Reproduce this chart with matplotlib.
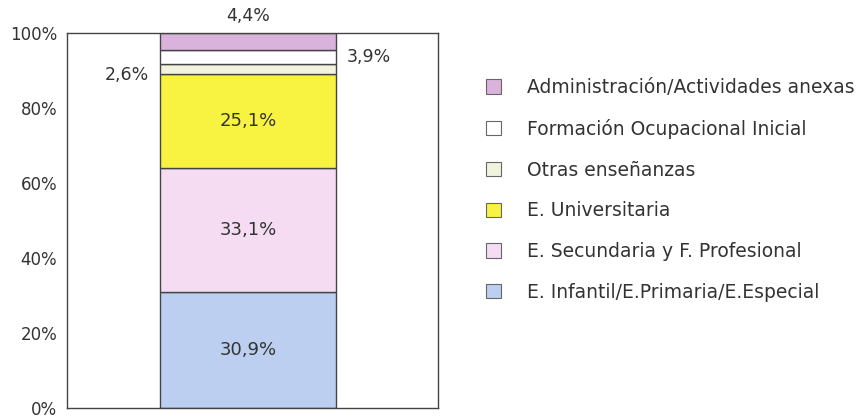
import matplotlib.pyplot as plt
from matplotlib.patches import Patch

# Data (bottom to top)
categories = ['E. Infantil/E.Primaria/E.Especial', 'E. Secundaria y F. Profesional',
              'E. Universitaria', 'Otras enseñanzas', 'Formación Ocupacional Inicial',
              'Administración/Actividades anexas']
values = [30.9, 33.1, 25.1, 2.6, 3.9, 4.4]
labels = ['30,9%', '33,1%', '25,1%', '2,6%', '3,9%', '4,4%']
colors = ['#bccff0', '#f6dcf2', '#f7f340', '#f1f3dc', '#ffffff', '#d9b3dc']
yticks = [0, 20, 40, 60, 80, 100]

plt.rcParams['font.family'] = ['DejaVu Sans']
txt = '#333333'

fig = plt.figure(figsize=(8.58, 4.16), dpi=100)
ax = fig.add_axes([67 / 858, 8 / 416, 371 / 858, 375 / 416])

x0 = -0.025
bar_w = 0.95
bottom = 0
for v, c, lab in zip(values, colors, labels):
    ax.bar(x0, v, bottom=bottom, width=bar_w, color=c, edgecolor='#444444', linewidth=1.0)
    mid = bottom + v / 2
    if lab == '4,4%':
        ax.text(x0, 102.2, lab, ha='center', va='bottom', fontsize=12.5, color=txt)
    elif lab == '3,9%':
        ax.text(x0 + bar_w / 2 + 0.06, mid, lab, ha='left', va='center', fontsize=12.5, color=txt)
    elif lab == '2,6%':
        ax.text(x0 - bar_w / 2 - 0.06, mid - 1.6, lab, ha='right', va='center', fontsize=12.5, color=txt)
    else:
        ax.text(x0, mid, lab, ha='center', va='center', fontsize=13, color=txt)
    bottom += v

ax.set_xlim(-1, 1)
ax.set_ylim(0, 100)
ax.set_yticks(yticks)
ax.set_yticklabels([f'{t}%' for t in yticks], fontsize=12, color=txt)
ax.set_xticks([])
ax.tick_params(axis='y', length=0, pad=7)
for s in ax.spines.values():
    s.set_color('#444444')
    s.set_linewidth(1.0)

# Legend (top to bottom)
handles = [Patch(facecolor=c, edgecolor='#666666', linewidth=0.8) for c in colors[::-1]]
leg = fig.legend(handles, categories[::-1], loc='upper left', bbox_to_anchor=(471 / 858, 1 - 63 / 416),
                 frameon=False, fontsize=13.5, handlelength=0.8, handleheight=0.8,
                 labelspacing=1.16, handletextpad=1.38, labelcolor=txt, borderpad=0.3)

plt.savefig('out.png', dpi=100)
